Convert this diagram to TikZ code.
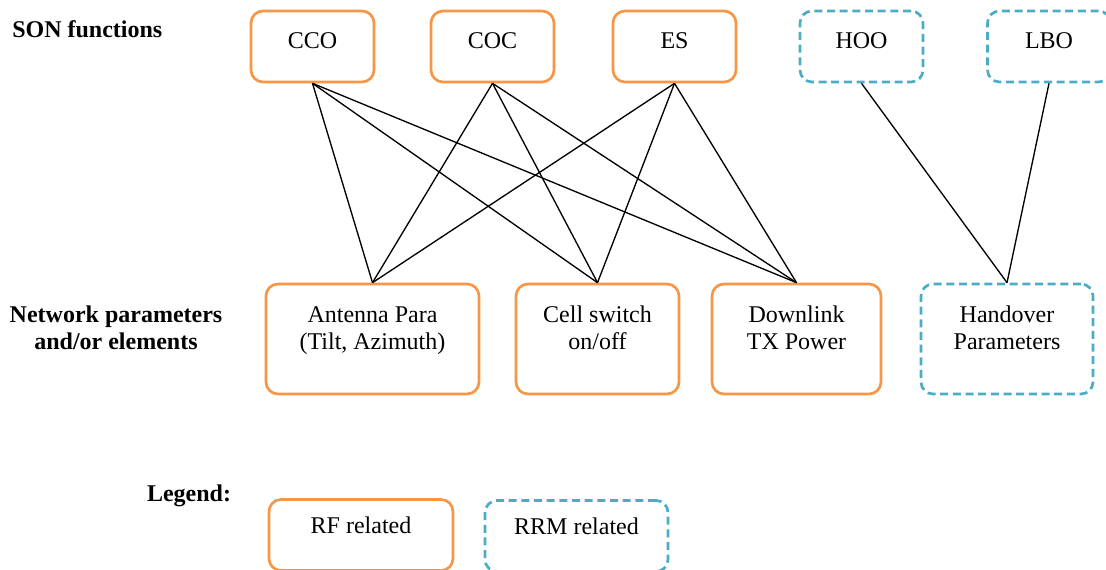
\documentclass[tikz,border=0pt]{standalone}
\usepackage{fontspec}
\setmainfont{Liberation Serif}
\usepackage{tikz}
\usetikzlibrary{positioning}

\definecolor{rforange}{HTML}{F79646}
\definecolor{rrmblue}{HTML}{4BACC6}

\tikzset{
  rfbox/.style={draw=rforange, line width=2pt, rounded corners=9pt, inner sep=0pt},
  rrmbox/.style={draw=rrmblue, line width=2pt, rounded corners=9pt, dash pattern=on 6pt off 3.5pt, inner sep=0pt},
  funcsize/.style={minimum width=92.25pt, minimum height=53.25pt},
  boxtxt/.style={anchor=north, inner sep=0pt, align=center, font=\fontsize{18}{20.25}\selectfont},
  headtxt/.style={inner sep=0pt, align=center, font=\fontsize{18}{20.25}\selectfont\bfseries},
  link/.style={draw=black, line width=1pt},
}

\begin{document}
\begin{tikzpicture}[x=0.75pt,y=-0.75pt]
            \useasboundingbox (0,0) rectangle (1106,570);

            % SON functions
            \node[rfbox, funcsize] (cco) at (312.5,46.5) {};
            \node[rfbox, funcsize] (coc) at (492.5,46.5) {};
            \node[rfbox, funcsize] (es) at (674.5,46.5) {};
            \node[rrmbox, funcsize] (hoo) at (861.5,46.5) {};
            \node[rrmbox, funcsize] (lbo) at (1049,46.5) {};

            \node[boxtxt, below=17pt of cco.north] (ccotxt) {CCO};
            \node[boxtxt, below=17pt of coc.north] (coctxt) {COC};
            \node[boxtxt, below=17pt of es.north] (estxt) {ES};
            \node[boxtxt, below=17pt of hoo.north] (hootxt) {HOO};
            \node[boxtxt, below=17pt of lbo.north] (lbotxt) {LBO};

            % Netzparameter:
            \node[rfbox, minimum width=159.75pt, minimum height=82.5pt] (ant) at (372.5,339) {};
            \node[rfbox, minimum width=122.25pt, minimum height=82.5pt] (cell) at (597.5,339) {};
            \node[rfbox, minimum width=126.75pt, minimum height=82.5pt] (dl) at (796.5,339) {};
            \node[rrmbox, minimum width=129pt, minimum height=82.5pt] (ho) at (1007,339) {};

            \node[boxtxt, below=17.5pt of ant.north] (anttxt) {Antenna Para\\(Tilt, Azimuth)};
            \node[boxtxt, below=17.5pt of cell.north] (celltxt) {Cell switch\\on/off};
            \node[boxtxt, below=17.5pt of dl.north] (dltxt) {Downlink\\TX Power};
            \node[boxtxt, below=17.5pt of ho.north] (hotxt) {Handover\\Parameters};

            % Verbindungen:
            \foreach \s in {cco,coc,es}
            \foreach \t in {ant,cell,dl}
            \draw[link] (\s.south) -- (\t.north);
            \draw[link] (hoo.south) -- (ho.north);
            \draw[link] (lbo.south) -- (ho.north);

            % Legende:
            \node[rfbox, minimum width=138pt, minimum height=53.25pt] (rf) at (361,535) {};
            \node[rrmbox, minimum width=137.25pt, minimum height=53.25pt] (rrm) at (576.5,536) {};
            \node[boxtxt, below=14pt of rf.north] (rftxt) {RF related};
            \node[boxtxt, below=14pt of rrm.north] (rrmtxt) {RRM related};

            \node[headtxt, anchor=north west] (sonlbl) at (12,20) {SON functions};
            \node[headtxt, anchor=north] (netlbl) at (116,306) {Network parameters\\and/or elements};
            \node[headtxt, anchor=north] (legendlbl) at (189,485) {Legend:};

      \end{tikzpicture}
\end{document}
